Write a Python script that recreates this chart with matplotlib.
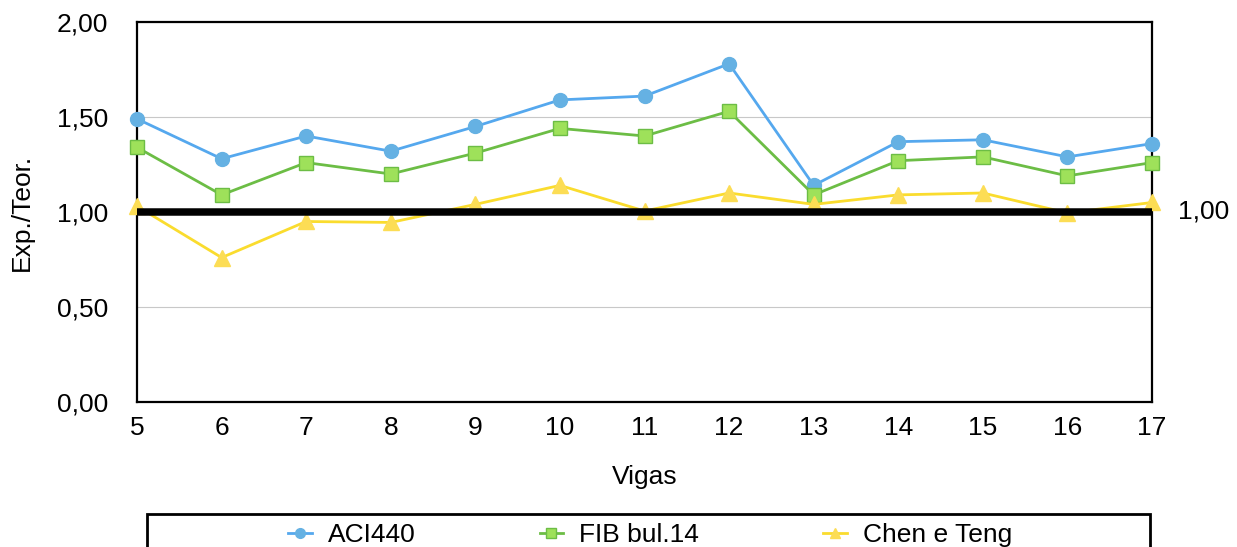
import numpy as np
import matplotlib
matplotlib.use("Agg")
import matplotlib.pyplot as plt
from matplotlib.patches import Rectangle
from matplotlib.transforms import blended_transform_factory

plt.rcParams['font.family'] = ['Liberation Sans', 'DejaVu Sans']
plt.rcParams['font.size'] = 19

vigas = [5, 6, 7, 8, 9, 10, 11, 12, 13, 14, 15, 16, 17]
aci440 = [1.49, 1.28, 1.40, 1.32, 1.45, 1.59, 1.61, 1.78, 1.14, 1.37, 1.38, 1.29, 1.36]
fib14 = [1.34, 1.09, 1.26, 1.20, 1.31, 1.44, 1.40, 1.53, 1.09, 1.27, 1.29, 1.19, 1.26]
chen_teng = [1.03, 0.76, 0.95, 0.945, 1.04, 1.14, 1.005, 1.10, 1.04, 1.09, 1.10, 0.995, 1.05]
referencia = 1.0

fig = plt.figure(figsize=(12.37, 5.47), dpi=100)
ax = fig.add_axes([0.1108, 0.2651, 0.8205, 0.6947])

ax.plot(vigas, aci440, color='#55a8ee', lw=2, marker='o', ms=10,
        mfc='#65b1e3', mec='#65b1e3', clip_on=False, zorder=3, label='ACI440')
ax.plot(vigas, fib14, color='#6cbd45', lw=2, marker='s', ms=9.4,
        mfc='#9ee15a', mec='#6cbd45', mew=1, clip_on=False, zorder=3, label='FIB bul.14')
ax.plot(vigas, chen_teng, color='#fadc2e', lw=2, marker='^', ms=11,
        mfc='#fcdd55', mec='#fcdd55', clip_on=False, zorder=3, label='Chen e Teng')

# linha de referência Exp./Teor. = 1
ax.axhline(referencia, color='black', lw=5.4, zorder=4)

ax.set_xlim(5, 17)
ax.set_ylim(0, 2)
ax.set_xticks(vigas)
ax.set_yticks([0, 0.5, 1.0, 1.5, 2.0])
ax.set_yticklabels([f"{v:.2f}".replace('.', ',') for v in [0, 0.5, 1.0, 1.5, 2.0]])
ax.tick_params(axis='y', length=0, pad=21)
ax.tick_params(axis='x', length=0, pad=10)
ax.grid(axis='y', color='#c8c8c8', lw=0.8, zorder=0)
ax.set_axisbelow(True)
for s in ax.spines.values():
    s.set_linewidth(1.6)
    s.set_color('black')

trans = blended_transform_factory(ax.transAxes, ax.transData)
ax.text(1.0256, referencia, f"{referencia:.2f}".replace('.', ','), transform=trans,
        ha='left', va='center')

fig.text(22 / 1237, 1 - 212 / 547, 'Exp./Teor.', rotation=90, ha='center', va='center')
fig.text(645 / 1237, 1 - 477 / 547, 'Vigas', ha='center', va='center')

# caixa da legenda
fig.patches.append(Rectangle((147 / 1237, -0.05), (1150 - 147) / 1237, 0.05 + 1 - 514 / 547,
                             transform=fig.transFigure, fill=False, ec='black', lw=2))
fig.legend(loc='center', bbox_to_anchor=(650 / 1237, 1 - 535 / 547), ncol=3,
           frameon=False, markerscale=0.7, handlelength=0.9, handletextpad=0.6,
           columnspacing=4.7, borderpad=0, borderaxespad=0)

fig.savefig('out.png', dpi=100)
